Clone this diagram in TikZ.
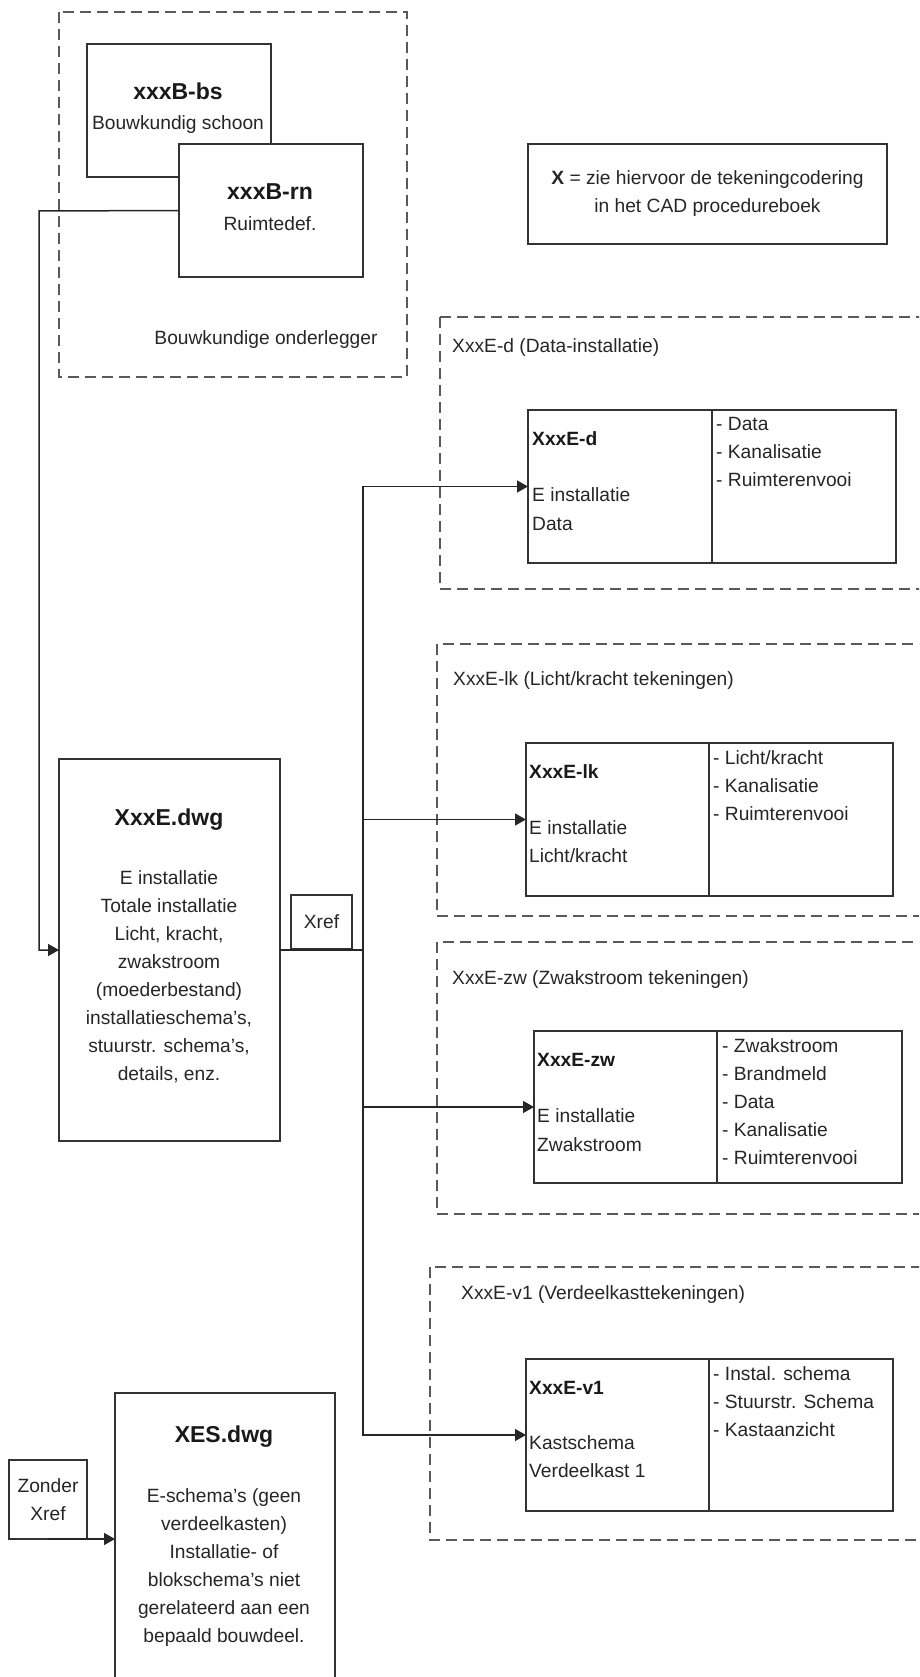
\documentclass[tikz,border=0pt]{standalone}
\usepackage{fontspec}
\setmainfont{Liberation Sans}
\usetikzlibrary{arrows.meta}
\tikzset{
  blok/.style={draw=black!80, line width=1.5pt, fill=white, inner sep=0pt, outer sep=0pt},
  kader/.style={draw=black!65, line width=1.5pt, dash pattern=on 11pt off 6pt},
  tekst/.style={font=\fontsize{19.2}{28}\selectfont, text=black!85, inner sep=0pt},
  kop/.style={font=\fontsize{23}{28}\selectfont\bfseries, text=black!90, inner sep=0pt},
  kopklein/.style={font=\fontsize{19.2}{28}\selectfont\bfseries, text=black!90, inner sep=0pt},
  pijl/.style={-{Triangle[length=11pt,width=12pt]}, draw=black!85, line width=1.5pt},
}

\begin{document}
\begin{tikzpicture}[x=1pt,y=-1pt]
\useasboundingbox (0,0) rectangle (919,1677);
\clip (0,0) rectangle (919,1677);

% bouwkundige onderlegger
\draw[kader] (59,12) rectangle (407,377);
\node[blok, minimum width=184pt, minimum height=133pt] (bs) at (179,110.5) {};
\node[kop, anchor=mid] (bskop) at (178,97) {xxxB-bs};
\node[tekst, anchor=mid] (bstxt) at (178,127) {Bouwkundig schoon};
\node[blok, minimum width=184pt, minimum height=133pt] (rn) at (271,210.5) {};
\node[kop, anchor=mid] (rnkop) at (270,197) {xxxB-rn};
\node[tekst, anchor=mid] (rntxt) at (270,228) {Ruimtedef.};
\node[tekst, anchor=mid] (onder) at (266,342) {Bouwkundige onderlegger};

% opmerking
\node[blok, tekst, align=center, minimum width=359pt, minimum height=100pt] (noot) at (707.5,194)
  {\textbf{X} = zie hiervoor de tekeningcodering\\in het CAD procedureboek};

% moederbestand
\node[blok, minimum width=221pt, minimum height=382pt] (xxxe) at (169.5,950) {};
\node[kop, anchor=mid] (xxxekop) at (169,823) {XxxE.dwg};
\foreach \t [count=\i from 0] in {E installatie, Totale installatie, {Licht, kracht,}, zwakstroom,
  {(moederbestand)}, {installatieschema's,}, {stuurstr. schema's,}, {details, enz.}}
  \node[tekst, anchor=mid] (xxxe\i) at (169,882+28*\i) {\t};
\node[blok, tekst, minimum width=61pt, minimum height=54pt] (xref) at (321.5,922) {Xref};

% data
\draw[kader] (440,317) rectangle (930,589);
\node[tekst, anchor=mid west] (kdata) at (452,350) {XxxE-d (Data-installatie)};
\node[blok, minimum width=184pt, minimum height=153pt] (ldata) at (620,486.5) {};
\node[blok, minimum width=184pt, minimum height=153pt] (rdata) at (804,486.5) {};
\node[kopklein, anchor=mid west] (tdata) at (532,443) {XxxE-d};
\node[tekst, anchor=mid west] (odata0) at (532,499) {E installatie};
\node[tekst, anchor=mid west] (odata1) at (532,528) {Data};
\foreach \t [count=\i from 0] in {Data, Kanalisatie, Ruimterenvooi}
  \node[tekst, anchor=mid west] (rdata\i) at (716,428+28*\i) {- \t};

% licht/kracht
\draw[kader] (437,644) rectangle (930,916);
\node[tekst, anchor=mid west] (klk) at (453,683) {XxxE-lk (Licht/kracht tekeningen)};
\node[blok, minimum width=183pt, minimum height=153pt] (llk) at (617.5,819.5) {};
\node[blok, minimum width=184pt, minimum height=153pt] (rlk) at (801,819.5) {};
\node[kopklein, anchor=mid west] (tlk) at (529,776) {XxxE-lk};
\node[tekst, anchor=mid west] (olk0) at (529,832) {E installatie};
\node[tekst, anchor=mid west] (olk1) at (529,860) {Licht/kracht};
\foreach \t [count=\i from 0] in {Licht/kracht, Kanalisatie, Ruimterenvooi}
  \node[tekst, anchor=mid west] (rlk\i) at (713,762+28*\i) {- \t};

% zwakstroom
\draw[kader] (437,942) rectangle (930,1214);
\node[tekst, anchor=mid west] (kzw) at (452,982) {XxxE-zw (Zwakstroom tekeningen)};
\node[blok, minimum width=183pt, minimum height=152pt] (lzw) at (625.5,1107) {};
\node[blok, minimum width=185pt, minimum height=152pt] (rzw) at (809.5,1107) {};
\node[kopklein, anchor=mid west] (tzw) at (537,1064) {XxxE-zw};
\node[tekst, anchor=mid west] (ozw0) at (537,1120) {E installatie};
\node[tekst, anchor=mid west] (ozw1) at (537,1149) {Zwakstroom};
\foreach \t [count=\i from 0] in {Zwakstroom, Brandmeld, Data, Kanalisatie, Ruimterenvooi}
  \node[tekst, anchor=mid west] (rzw\i) at (722,1050+28*\i) {- \t};

% verdeelkast
\draw[kader] (430,1267) rectangle (930,1540);
\node[tekst, anchor=mid west] (kv1) at (461,1297) {XxxE-v1 (Verdeelkasttekeningen)};
\node[blok, minimum width=183pt, minimum height=152pt] (lv1) at (617.5,1435) {};
\node[blok, minimum width=184pt, minimum height=152pt] (rv1) at (801,1435) {};
\node[kopklein, anchor=mid west] (tv1) at (529,1392) {XxxE-v1};
\node[tekst, anchor=mid west] (ov10) at (529,1447) {Kastschema};
\node[tekst, anchor=mid west] (ov11) at (529,1475) {Verdeelkast 1};
\foreach \t [count=\i from 0] in {Instal. schema, Stuurstr. Schema, Kastaanzicht}
  \node[tekst, anchor=mid west] (rv1\i) at (713,1378+28*\i) {- \t};

% zonder xref
\node[blok, tekst, align=center, minimum width=78pt, minimum height=79pt] (zonder) at (48,1499.5) {Zonder\\Xref};
\node[blok, minimum width=220pt, minimum height=307pt] (xes) at (225,1546.5) {};
\node[kop, anchor=mid] (xeskop) at (224,1440) {XES.dwg};
\foreach \t [count=\i from 0] in {{E-schema's (geen}, {verdeelkasten)}, {Installatie- of},
  {blokschema's niet}, {gerelateerd aan een}, {bepaald bouwdeel.}}
  \node[tekst, anchor=mid] (xes\i) at (224,1500+28*\i) {\t};

% verbindingen
\coordinate (bocht) at (39,211);
\coordinate (stam) at (363,950);
\draw[pijl] (rn.west) -- (bocht) |- (xxxe.west);
\foreach \doel in {ldata,llk,lzw,lv1}
  \draw[pijl] (xxxe.east) -- (stam) |- (\doel.west);
\draw[pijl] (zonder.south) -- (zonder.south -| xes.west);
\end{tikzpicture}
\end{document}
